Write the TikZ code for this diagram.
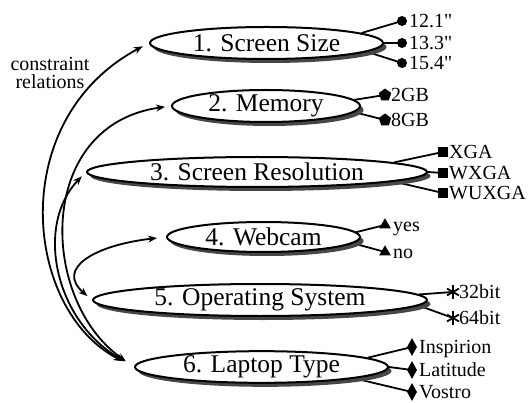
\documentclass[tikz,border=0pt]{standalone}
\usepackage{fontspec}
\setmainfont{Liberation Serif}[Ligatures=TeXOff]
\usetikzlibrary{shapes.geometric,arrows.meta,shadows,backgrounds}

\begin{document}
\begin{tikzpicture}[x=1pt,y=1pt,
  attr/.style={ellipse, draw=black, line width=2pt, fill=white, inner sep=0pt,
    font=\fontsize{25.5}{28}\selectfont,
    drop shadow={shadow xshift=3.5pt, shadow yshift=-4pt, fill=black!72, opacity=1}},
  link/.style={line width=1.8pt},
  val/.style={anchor=west, inner sep=0pt, font=\fontsize{20}{22}\selectfont,
    text height=13.5pt, text depth=0pt},
  mkdot/.style={circle, fill=black, inner sep=0pt, minimum size=10pt},
  mkpent/.style={regular polygon, regular polygon sides=5, fill=black, inner sep=0pt, minimum size=13pt},
  mksq/.style={rectangle, fill=black, inner sep=0pt, minimum size=9.5pt},
  mktri/.style={regular polygon, regular polygon sides=3, fill=black, inner sep=0pt, minimum size=13.5pt},
  mkdia/.style={diamond, fill=black, inner sep=0pt, minimum width=10pt, minimum height=18pt},
  mkast/.style={circle, inner sep=0pt, minimum size=14pt,
    path picture={\foreach \a in {90,30,150}{
      \draw[line width=1.8pt] (path picture bounding box.center) ++(\a:7pt) -- ++({\a+180}:14pt);}}},
  rel/.style={line width=1.8pt, {Stealth[length=9pt,width=7pt]}-{Stealth[length=9pt,width=7pt]}},
  note/.style={inner sep=0pt, font=\fontsize{20}{22}\selectfont, text height=13.5pt, text depth=0pt},
]
\useasboundingbox (0,0) rectangle (532,-403);

% attribute ellipses
\node[attr, minimum width=233pt, minimum height=32pt] (e1) at (266.5,-43) {1. Screen Size};
\node[attr, minimum width=188pt, minimum height=32pt] (e2) at (266,-106) {2. Memory};
\node[attr, minimum width=340pt, minimum height=30pt] (e3) at (257,-172) {3. Screen Resolution};
\node[attr, minimum width=193pt, minimum height=30pt] (e4) at (263.5,-237) {4. Webcam};
\node[attr, minimum width=334pt, minimum height=32pt] (e5) at (260,-300) {5. Operating System};
\node[attr, minimum width=253pt, minimum height=30pt] (e6) at (261.5,-367) {6. Laptop Type};

% value markers
\node[mkdot] (m11) at (402,-21) {};
\node[mkdot] (m12) at (402,-43) {};
\node[mkdot] (m13) at (402,-63) {};
\node[mkpent] (m21) at (385,-95) {};
\node[mkpent] (m22) at (385,-120) {};
\node[mksq] (m31) at (443,-152) {};
\node[mksq] (m32) at (443,-173) {};
\node[mksq] (m33) at (443,-193) {};
\node[mktri] (m41) at (385,-225) {};
\node[mktri] (m42) at (385,-252) {};
\node[mkast] (m51) at (453,-292) {};
\node[mkast] (m52) at (453,-318) {};
\node[mkdia] (m61) at (412,-347) {};
\node[mkdia] (m62) at (412,-370) {};
\node[mkdia] (m63) at (412,-392) {};

% value labels
\node[val] (v11) at (409,-21) {12.1"};
\node[val] (v12) at (409,-43) {13.3"};
\node[val] (v13) at (409,-63) {15.4"};
\node[val] (v21) at (391,-95) {2GB};
\node[val] (v22) at (391,-120) {8GB};
\node[val] (v31) at (449,-152) {XGA};
\node[val] (v32) at (449,-173) {WXGA};
\node[val] (v33) at (449,-193) {WUXGA};
\node[val] (v41) at (393,-225) {yes};
\node[val] (v42) at (393,-252) {no};
\node[val] (v51) at (459,-292) {32bit};
\node[val] (v52) at (459,-318) {64bit};
\node[val] (v61) at (419,-347) {Inspirion};
\node[val] (v62) at (419,-370) {Latitude};
\node[val] (v63) at (419,-392) {Vostro};

% links from attributes to their values
\begin{scope}[on background layer]
  \draw[link] (e1.6) -- (m11.center);
  \draw[link] (e1.0) -- (m12.center);
  \draw[link] (e1.-5) -- (m13.center);
  \draw[link] (e2.4) -- (m21.center);
  \draw[link] (e2.-4) -- (m22.center);
  \draw[link] (e3.4) -- (m31.center);
  \draw[link] (e3.0) -- (m32.center);
  \draw[link] (e3.-4) -- (m33.center);
  \draw[link] (e4.3) -- (m41.center);
  \draw[link] (e4.-4) -- (m42.center);
  \draw[link] (e5.2) -- (m51.center);
  \draw[link] (e5.-2.5) -- (m52.center);
  \draw[link] (e6.5) -- (m61.center);
  \draw[link] (e6.0) -- (m62.center);
  \draw[link] (e6.-7) -- (m63.center);
\end{scope}

% constraint relations
\node[note, anchor=base] (lbl1) at (50,-71) {constraint};
\node[note, anchor=base] (lbl2) at (50,-89) {relations};
\draw[rel, shorten <=13pt, shorten >=7pt]
  (e6.west) .. controls +(-110,57) and +(-144,-77) .. (e1.west);
\draw[rel, shorten <=10pt, shorten >=6pt]
  (e6.west) .. controls +(-95,67) and +(-136,-19) .. (e2.west);
\draw[rel, shorten <=11pt, shorten >=6pt]
  (e6.west) .. controls +(-80,47) and +(-51,-53) .. (e3.west);
\draw[rel, shorten <=9pt, shorten >=6pt]
  (e4.west) .. controls +(-70,-8) and +(-37,32) .. (e5.west);
\end{tikzpicture}
\end{document}
